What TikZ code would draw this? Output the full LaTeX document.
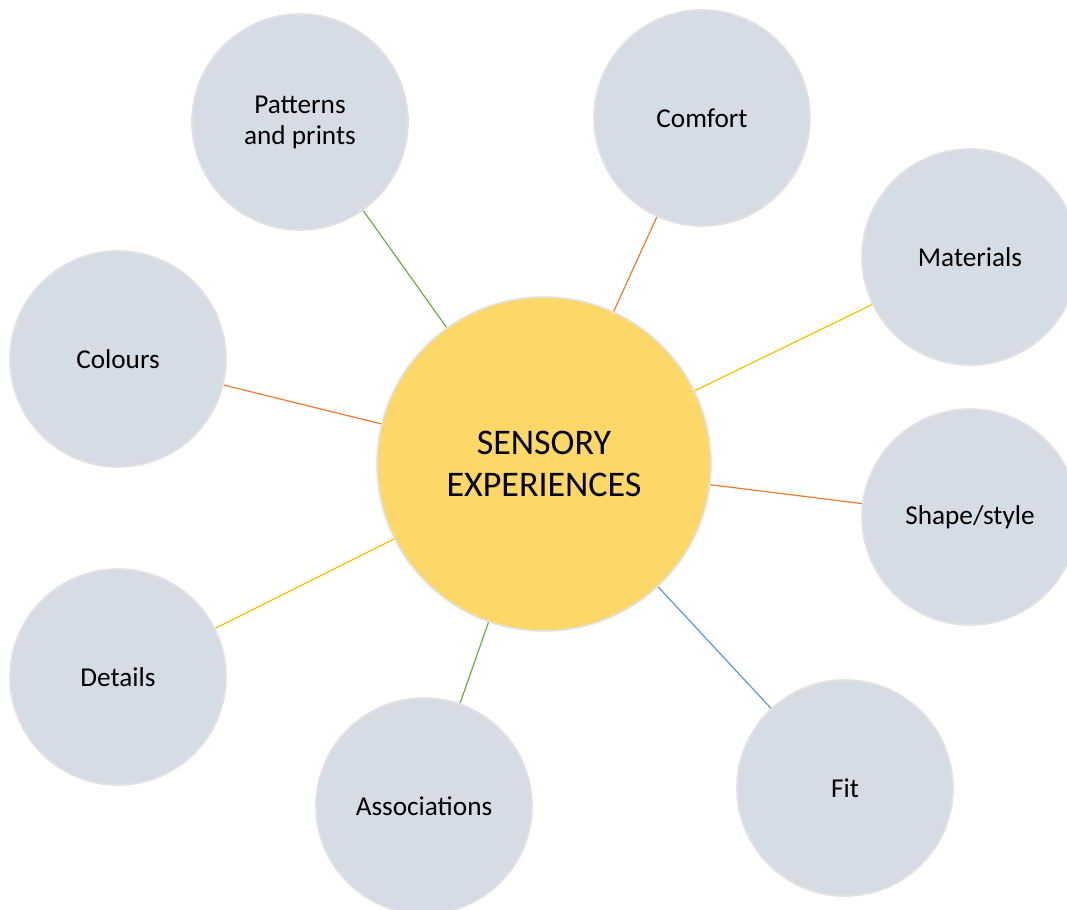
\documentclass[tikz,border=0pt]{standalone}
\usepackage{fontspec}
\setmainfont{Carlito}
\usepackage{tikz}
\usepackage{xcolor}
\definecolor{bubblefill}{HTML}{D6DCE5}
\definecolor{hubfill}{HTML}{FDD868}
\definecolor{rimgray}{HTML}{E2E2E2}
\definecolor{linkgreen}{HTML}{70AD47}
\definecolor{linkorange}{HTML}{ED7D31}
\definecolor{linkyellow}{HTML}{FFC000}
\definecolor{linkblue}{HTML}{5B9BD5}

\begin{document}
\begin{tikzpicture}[x=0.02cm, y=-0.02cm,
    bubble/.style={shape=circle, fill=bubblefill, draw=rimgray, line width=1pt, inner sep=0pt,
        minimum size=4.32cm, align=center, font=\fontsize{15.5}{17.6}\selectfont},
    hub/.style={shape=circle, fill=hubfill, draw=rimgray, line width=1pt, inner sep=0pt,
        minimum size=6.68cm, align=center, font=\fontsize{20.5}{23.8}\selectfont},
    link/.style={line width=0.7pt}]
        \useasboundingbox (0, 0) rectangle (1067, 909);
        % Centre bubble
        \node[hub] (S) at (544, 464) {SENSORY\\EXPERIENCES};
        % Outer bubbles
        \node[bubble] (P) at (300, 122) {Patterns\\and prints};
        \node[bubble] (Co) at (702, 118) {Comfort};
        \node[bubble] (M) at (970, 257) {Materials};
        \node[bubble] (Cl) at (118, 359) {Colours};
        \node[bubble] (Sh) at (970, 517) {Shape/style};
        \node[bubble] (D) at (118, 677) {Details};
        \node[bubble] (A) at (424, 806) {Associations};
        \node[bubble] (F) at (845, 788) {Fit};
        % Links
        \path[link, draw=linkgreen] (S) edge (P);
        \path[link, draw=linkorange] (S) edge (Co);
        \path[link, draw=linkyellow] (S) edge (M);
        \path[link, draw=linkorange] (S) edge (Cl);
        \path[link, draw=linkorange] (S) edge (Sh);
        \path[link, draw=linkyellow] (S) edge (D);
        \path[link, draw=linkgreen] (S) edge (A);
        \path[link, draw=linkblue] (S) edge (F);
    \end{tikzpicture}
\end{document}
